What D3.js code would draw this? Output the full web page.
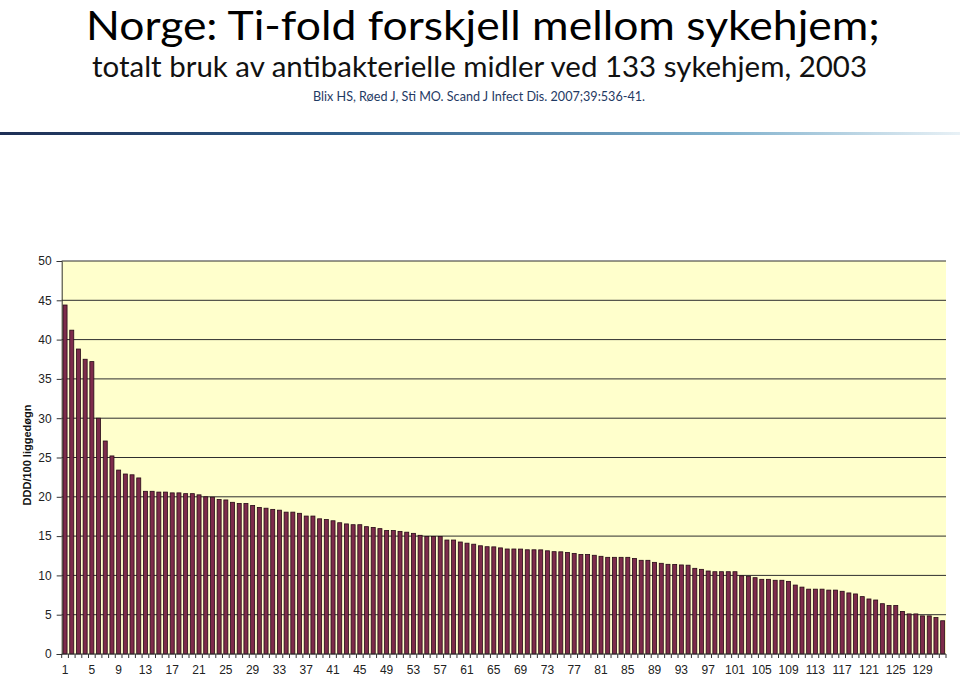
<!DOCTYPE html>
<html>
<head>
<meta charset="utf-8">
<script src="https://cdn.jsdelivr.net/npm/d3@7"></script>
<style>
  html, body { margin: 0; padding: 0; background: #ffffff; }
  svg { display: block; }
</style>
</head>
<body>
<svg id="chart" width="960" height="676"></svg>
<script>
// ---- data ----
const titleMain = "Norge: Ti-fold forskjell mellom sykehjem;";
const titleSub = "totalt bruk av antibakterielle midler ved 133 sykehjem, 2003";
const citation = "Blix HS, Røed J, Sti MO. Scand J Infect Dis. 2007;39:536-41.";
const yTitle = "DDD/100 liggedøgn";

const values = [
  44.4, 41.2, 38.8, 37.5, 37.2, 30.0, 27.1, 25.2, 23.4, 22.9,
  22.8, 22.4, 20.7, 20.7, 20.6, 20.6, 20.5, 20.5, 20.4, 20.4,
  20.25, 20.0, 19.95, 19.65, 19.6, 19.3, 19.15, 19.15, 18.9, 18.65,
  18.55, 18.4, 18.3, 18.05, 18.05, 17.9, 17.55, 17.55, 17.2, 17.1,
  16.95, 16.7, 16.55, 16.45, 16.45, 16.2, 16.1, 15.95, 15.7, 15.7,
  15.6, 15.5, 15.35, 15.1, 14.96, 14.96, 14.95, 14.5, 14.5, 14.25,
  14.1, 13.97, 13.77, 13.65, 13.63, 13.5, 13.36, 13.36, 13.35, 13.26,
  13.26, 13.25, 13.13, 13.02, 13.0, 12.91, 12.8, 12.67, 12.66, 12.56,
  12.43, 12.3, 12.3, 12.3, 12.3, 12.15, 11.92, 11.92, 11.66, 11.54,
  11.41, 11.4, 11.33, 11.3, 10.9, 10.77, 10.56, 10.47, 10.47, 10.47,
  10.47, 9.95, 9.9, 9.71, 9.5, 9.5, 9.38, 9.38, 9.24, 8.77,
  8.51, 8.25, 8.25, 8.25, 8.13, 8.13, 7.98, 7.77, 7.64, 7.3,
  7.0, 6.87, 6.4, 6.17, 6.17, 5.42, 5.1, 5.1, 4.85, 4.85,
  4.64, 4.23
];
const categories = values.map((v, i) => i + 1);
const xTickLabels = categories.filter(c => (c - 1) % 4 === 0);
const yTicks = [0, 5, 10, 15, 20, 25, 30, 35, 40, 45, 50];

// ---- layout ----
const svg = d3.select("#chart");
const plot = { left: 61.7, right: 946, top: 261, bottom: 654 };

// gradient rule under the header
const defs = svg.append("defs");
const grad = defs.append("linearGradient").attr("id", "rule").attr("x1", "0%").attr("x2", "100%");
grad.append("stop").attr("offset", "0%").attr("stop-color", "#1e2f55");
grad.append("stop").attr("offset", "35%").attr("stop-color", "#2f5d8a");
grad.append("stop").attr("offset", "75%").attr("stop-color", "#7fb0cc");
grad.append("stop").attr("offset", "100%").attr("stop-color", "#e8f1f6");

svg.append("rect").attr("x", 0).attr("y", 132).attr("width", 960).attr("height", 3)
  .attr("fill", "url(#rule)");

// titles
const titleFont = "Lato, 'Open Sans', 'Liberation Sans', sans-serif";
svg.append("text").attr("x", 86).attr("y", 40)
  .attr("font-family", titleFont).attr("font-size", 40).attr("fill", "#000")
  .attr("textLength", 794).attr("lengthAdjust", "spacingAndGlyphs")
  .text(titleMain);
svg.append("text").attr("x", 92).attr("y", 77)
  .attr("font-family", titleFont).attr("font-size", 29).attr("fill", "#111")
  .attr("textLength", 775).attr("lengthAdjust", "spacingAndGlyphs")
  .text(titleSub);
svg.append("text").attr("x", 313).attr("y", 101)
  .attr("font-family", titleFont).attr("font-size", 13).attr("fill", "#1f3a64")
  .attr("textLength", 332).attr("lengthAdjust", "spacingAndGlyphs")
  .text(citation);

// scales
const x = d3.scaleBand().domain(categories).range([plot.left, plot.right]).paddingInner(0.4).paddingOuter(0.2);
const y = d3.scaleLinear().domain([0, 50]).range([plot.bottom, plot.top]);

// plot background
svg.append("rect")
  .attr("x", plot.left).attr("y", y(50))
  .attr("width", plot.right - plot.left).attr("height", y(0) - y(50))
  .attr("fill", "#ffffcc");

// gridlines
svg.append("g").selectAll("line").data(yTicks.filter(t => t > 0)).join("line")
  .attr("x1", plot.left).attr("x2", plot.right)
  .attr("y1", d => y(d)).attr("y2", d => y(d))
  .attr("stroke", "#2e2e2e").attr("stroke-width", 1);

// bars
svg.append("g").selectAll("rect").data(values).join("rect")
  .attr("x", (d, i) => x(categories[i]))
  .attr("width", x.bandwidth())
  .attr("y", d => y(d))
  .attr("height", d => y(0) - y(d))
  .attr("fill", "#7d2b4b")
  .attr("stroke", "#260a16")
  .attr("stroke-width", 0.8);

// y axis
const yAxis = d3.axisLeft(y).tickValues(yTicks).tickSize(5).tickPadding(5);
const gy = svg.append("g").attr("transform", `translate(${plot.left},0)`).call(yAxis);
gy.select(".domain").attr("stroke", "#333");
gy.selectAll(".tick line").attr("stroke", "#333");
gy.selectAll("text").attr("font-family", "Arial, 'Liberation Sans', sans-serif")
  .attr("font-size", 12).attr("fill", "#222");

// x axis line
svg.append("line").attr("x1", plot.left).attr("x2", plot.right)
  .attr("y1", y(0)).attr("y2", y(0)).attr("stroke", "#333").attr("stroke-width", 1);

// x tick marks between categories
const step = x.step();
const boundaries = categories.map(c => x(c) - (step - x.bandwidth()) / 2).concat([plot.right]);
svg.append("g").selectAll("line").data(boundaries).join("line")
  .attr("x1", d => d).attr("x2", d => d)
  .attr("y1", y(0)).attr("y2", y(0) + 4)
  .attr("stroke", "#333").attr("stroke-width", 1);

// x labels
svg.append("g").selectAll("text").data(xTickLabels).join("text")
  .attr("x", d => x(d) + x.bandwidth() / 2)
  .attr("y", 674)
  .attr("text-anchor", "middle")
  .attr("font-family", "Arial, 'Liberation Sans', sans-serif")
  .attr("font-size", 12).attr("fill", "#222")
  .text(d => d);

// y title
svg.append("text")
  .attr("transform", "translate(31,455) rotate(-90)")
  .attr("text-anchor", "middle")
  .attr("font-family", "Arial, 'Liberation Sans', sans-serif")
  .attr("font-weight", "bold").attr("font-size", 11).attr("fill", "#111")
  .text(yTitle);
</script>
</body>
</html>
